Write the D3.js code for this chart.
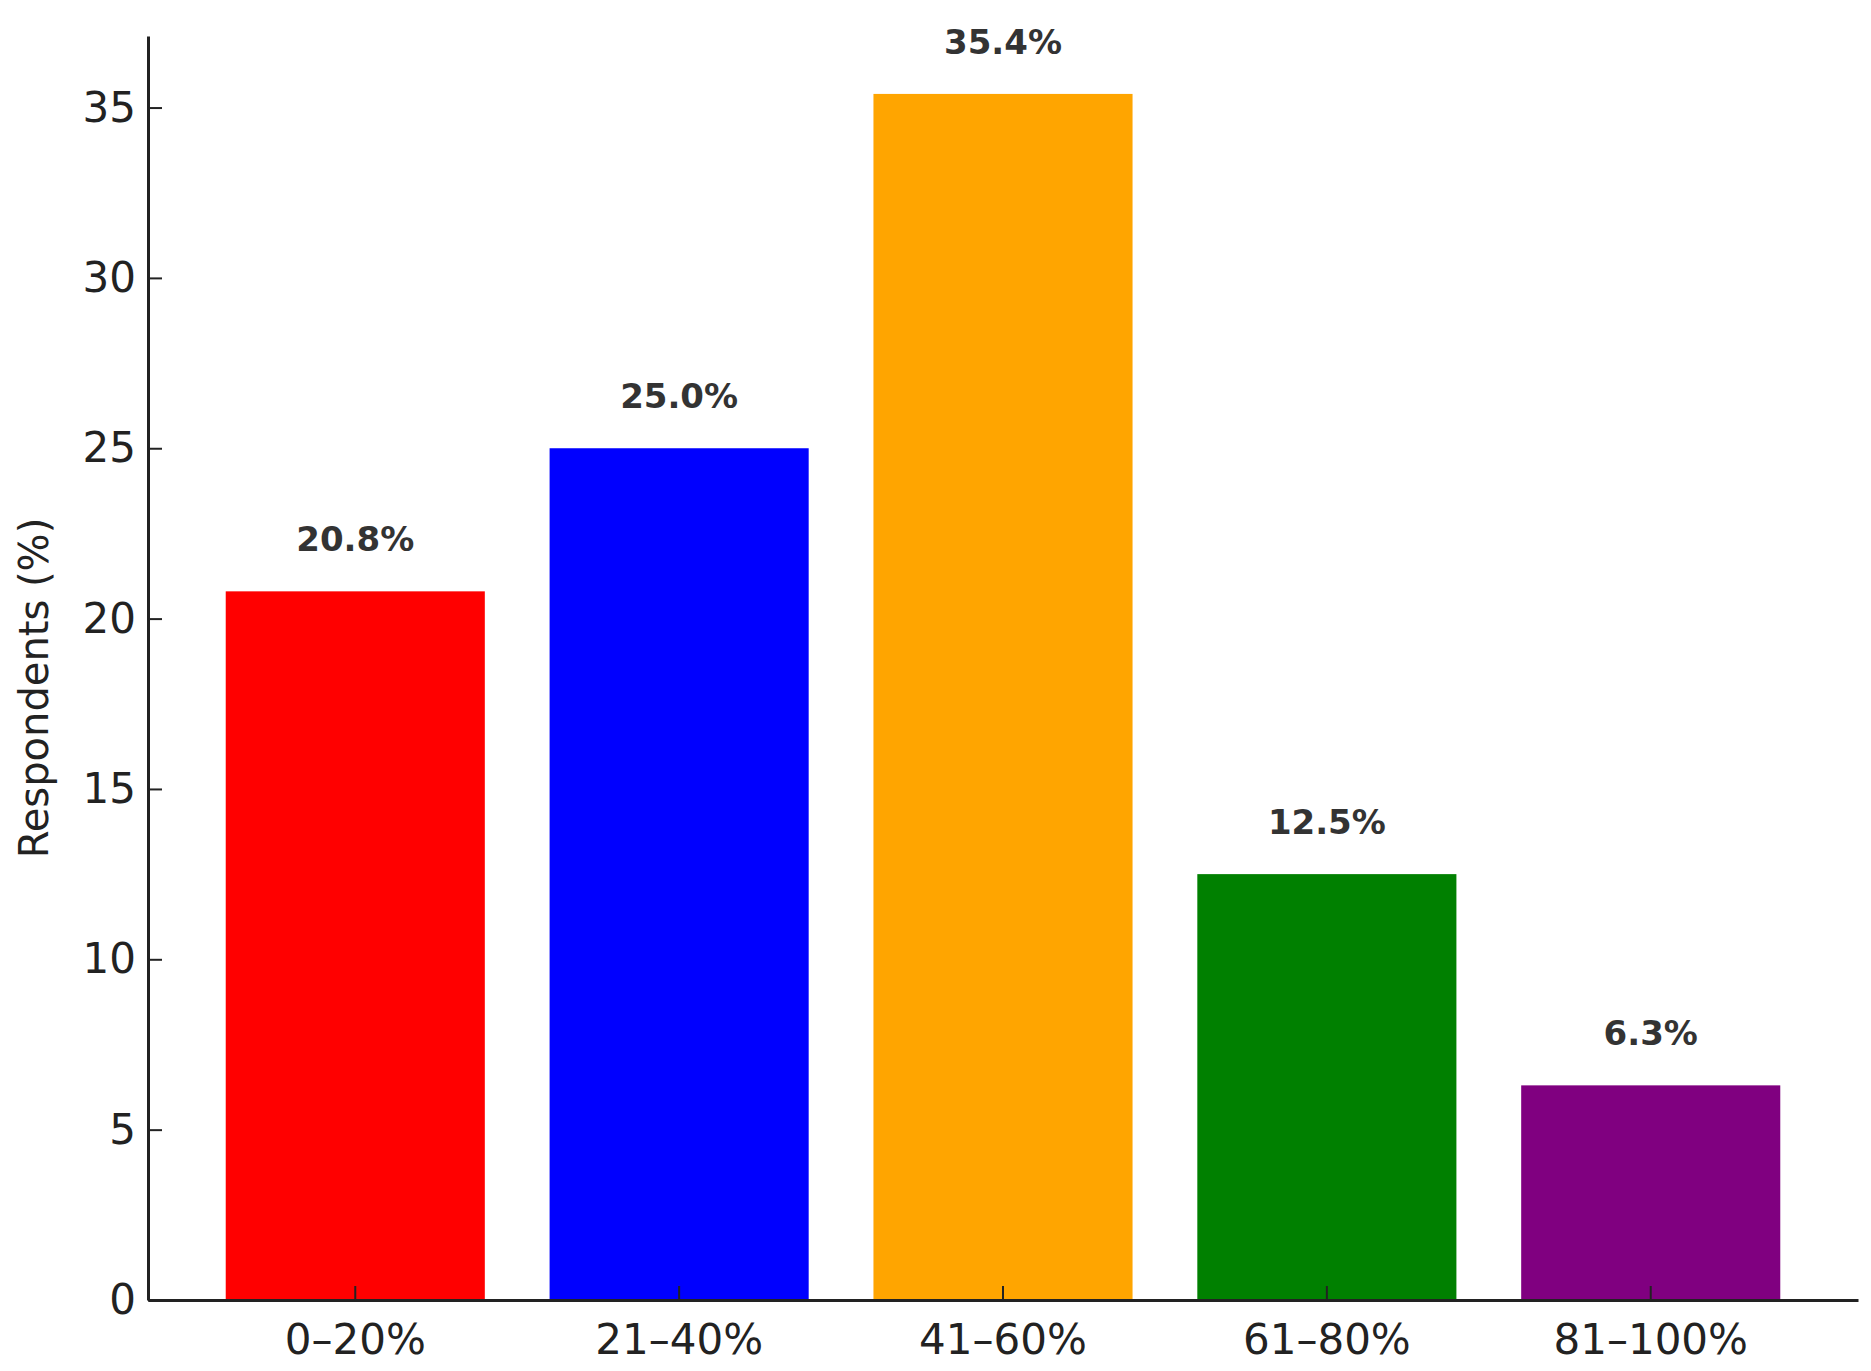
<!DOCTYPE html>
<meta charset="utf-8">
<html>
<script src="https://d3js.org/d3.v7.min.js"></script>
<style>
  body { margin: 0; background: white; }
  text { font-family: "DejaVu Sans", sans-serif; }
</style>
<body>
<div id="chart"></div>
<script>
    // data
    const categories = ["0\u201320%", "21\u201340%", "41\u201360%", "61\u201380%", "81\u2013100%"];
    const values = [20.8, 25.0, 35.4, 12.5, 6.3];
    const colors = ["#ff0000", "#0000ff", "#ffa500", "#008000", "#800080"];
    const yTicks = [0, 5, 10, 15, 20, 25, 30, 35];

    const W = 1871, H = 1371;
    const plotLeft = 148, plotRight = 1858, plotTop = 36, plotBottom = 1300;

    const svg = d3.select("#chart").append("svg")
        .attr("width", W).attr("height", H);

    const x = d3.scaleBand()
        .domain(categories)
        .range([plotLeft, plotRight])
        .paddingInner(0.2)
        .paddingOuter(0.24);

    const y = d3.scaleLinear()
        .domain([0, 37.1])
        .range([plotBottom, plotTop]);

    // bars
    svg.selectAll("rect.bar")
      .data(values)
      .join("rect")
        .attr("class", "bar")
        .attr("x", (d, i) => x(categories[i]))
        .attr("y", d => y(d))
        .attr("width", x.bandwidth())
        .attr("height", d => y(0) - y(d))
        .attr("fill", (d, i) => colors[i]);

    // value labels
    svg.selectAll("text.val")
      .data(values)
      .join("text")
        .attr("class", "val")
        .attr("x", (d, i) => x(categories[i]) + x.bandwidth() / 2)
        .attr("y", d => y(d) - 40)
        .attr("text-anchor", "middle")
        .attr("font-size", 34)
        .attr("font-weight", "bold")
        .attr("fill", "#333")
        .text(d => d.toFixed(1) + "%");

    // axes
    const xAxis = svg.append("g")
        .attr("transform", `translate(0, ${plotBottom})`)
        .call(d3.axisBottom(x).tickSizeInner(-14).tickSizeOuter(0).tickPadding(24));
    const yAxis = svg.append("g")
        .attr("transform", `translate(${plotLeft}, 0)`)
        .call(d3.axisLeft(y).tickValues(yTicks).tickSizeInner(-14).tickSizeOuter(0).tickPadding(12));

    [xAxis, yAxis].forEach(g => {
      g.select(".domain").attr("stroke", "#222").attr("stroke-width", 3);
      g.selectAll(".tick line").attr("stroke", "#222").attr("stroke-width", 2);
      g.selectAll(".tick text").attr("font-size", 42).attr("fill", "#222")
        .attr("font-family", "DejaVu Sans, sans-serif");
    });
    xAxis.selectAll(".tick text").attr("dy", "0.71em");

    // y label
    svg.append("text")
        .attr("transform", `translate(48, ${(plotTop + plotBottom) / 2 + 20}) rotate(-90)`)
        .attr("text-anchor", "middle")
        .attr("font-size", 40)
        .attr("fill", "#222")
        .text("Respondents (%)");
</script>
</body>
</html>
